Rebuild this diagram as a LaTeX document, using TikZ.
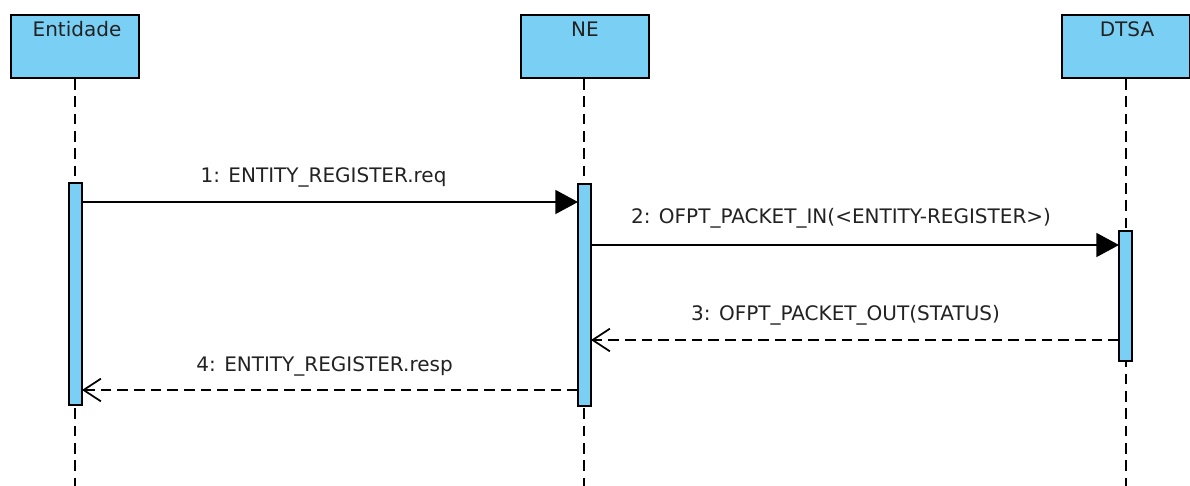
\documentclass[tikz,border=0pt]{standalone}
\usepackage{fontspec}
\setmainfont{DejaVu Sans}
\usetikzlibrary{arrows.meta}
\definecolor{lblue}{RGB}{122,207,245}
\definecolor{txt}{RGB}{34,34,34}
\tikzset{
  actorbox/.style={draw=black, fill=lblue, line width=1.4pt, minimum width=96pt, minimum height=47.5pt, inner sep=0pt},
  actlabel/.style={font=\fontsize{15}{17}\selectfont, text=txt, anchor=base, inner sep=0pt},
  actbar/.style={draw=black, fill=lblue, line width=1.3pt},
  lifeline/.style={line width=1.4pt, dash pattern=on 8pt off 5pt},
  syncmsg/.style={line width=1.3pt, -{Triangle[length=17pt,width=18pt]}},
  retmsg/.style={line width=1.3pt, dash pattern=on 8pt off 4.5pt, -{Straight Barb[length=13pt,width=17pt,line width=1.3pt]}},
  msglabel/.style={font=\fontsize{15}{17}\selectfont, text=txt, anchor=base, inner sep=0pt}
}
\begin{document}
\begin{tikzpicture}[x=0.75pt,y=-0.75pt]
\useasboundingbox (0,0) rectangle (1190,486);
% actors
\node[actorbox] (ent) at (75,46.5) {};
\node[actorbox] (ne) at (585,46.5) {};
\node[actorbox] (dtsa) at (1126,46.5) {};
\node[actlabel] (entl) at (77,36) {Entidade};
\node[actlabel] (nel) at (585,36) {NE};
\node[actlabel] (dtsal) at (1127,36) {DTSA};
% lifelines
\coordinate (enttop) at (75,79);
\coordinate (netop) at (584,79);
\coordinate (dtsatop) at (1126,79);
\coordinate (entend) at (75,486);
\coordinate (neend) at (584,486);
\coordinate (dtsaend) at (1126,486);
\draw[lifeline] (enttop) -- (entend);
\draw[lifeline] (netop) -- (neend);
\draw[lifeline] (dtsatop) -- (dtsaend);
% activation bars
\draw[actbar] (69,183) rectangle (82,405);
\draw[actbar] (578,184) rectangle (591,406);
\draw[actbar] (1119,231) rectangle (1132,361);
\coordinate (a1s) at (82,202);
\coordinate (a1e) at (578,202);
\coordinate (a2s) at (591,245);
\coordinate (a2e) at (1119,245);
\coordinate (a3s) at (1119,340);
\coordinate (a3e) at (591,340);
\coordinate (a4s) at (578,390);
\coordinate (a4e) at (82,390);
% messages
\draw[syncmsg] (a1s) -- (a1e);
\draw[syncmsg] (a2s) -- (a2e);
\draw[retmsg] (a3s) -- (a3e);
\draw[retmsg] (a4s) -- (a4e);
\node[msglabel] (m1) at (323.5,182) {1: ENTITY\_REGISTER.req};
\node[msglabel] (m2) at (841,223) {2: OFPT\_PACKET\_IN(<ENTITY-REGISTER>)};
\node[msglabel] (m3) at (845.5,320) {3: OFPT\_PACKET\_OUT(STATUS)};
\node[msglabel] (m4) at (324.5,371) {4: ENTITY\_REGISTER.resp};
\end{tikzpicture}
\end{document}
